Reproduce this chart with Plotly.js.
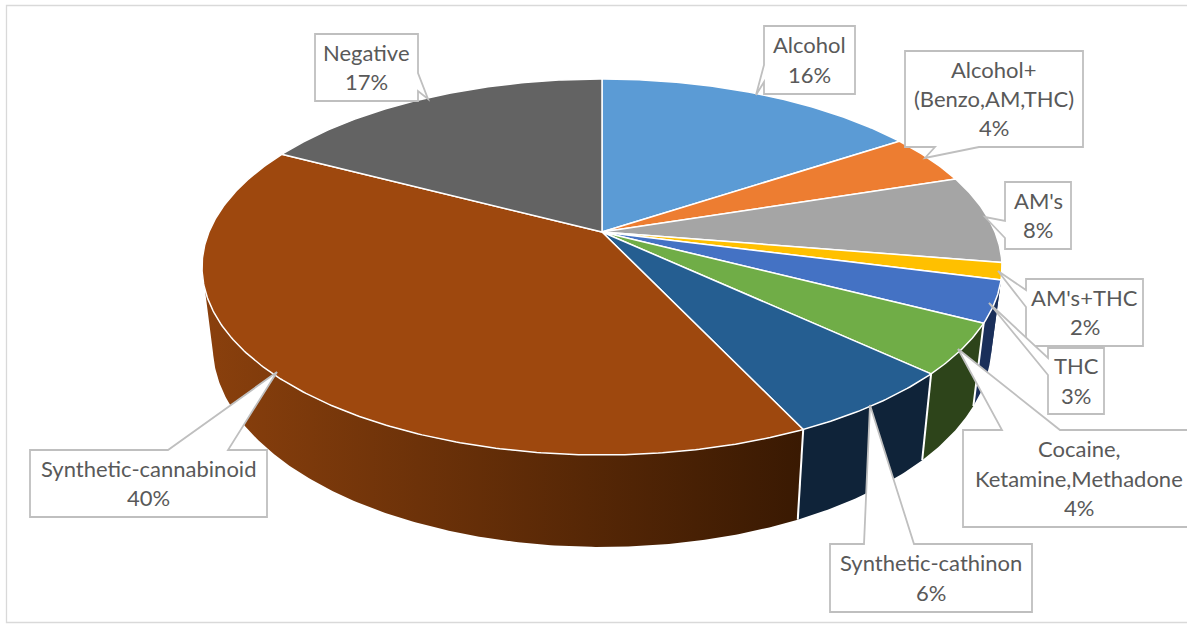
<!DOCTYPE html>
<html><head><meta charset="utf-8">
<script src="https://cdn.plot.ly/plotly-3.0.1.min.js"></script>
<style>html,body{margin:0;padding:0;background:#fff}#c{width:1187px;height:624px}</style></head>
<body><div id="c"></div>
<script>
// ---- data ----
const categories = ["Alcohol","Alcohol+<br>(Benzo,AM,THC)","AM's","AM's+THC","THC","Cocaine,<br>Ketamine,Methadone","Synthetic-cathinon","Synthetic-cannabinoid","Negative"];
const values = [15.7, 4.3, 7.6, 1.45, 3.55, 4.35, 6.05, 39.7, 17.3];
const percentLabels = ["16%","4%","8%","2%","3%","4%","6%","40%","17%"];
// ---- style ----
const topColors = ["#5b9bd5","#ed7d31","#a5a5a5","#ffc000","#4472c4","#70ad47","#255e91","#9e480e","#636363"];
const wallColors = [null,null,null,"#1a2f5a","#1a2f5a","#2d441a","#0f2339","grad",null];
// ---- projection of the tilted pie onto the page ----
const cx=602, cy=232, P=0.186, By=181.5, Cx=393;
const rad=d=>d*Math.PI/180;
function topPt(deg){const u=-Math.cos(rad(deg)),v=Math.sin(rad(deg)),d=1-P*u;return [cx+Cx*v/d, cy+By*u/d];}
function botPt(deg){const p=topPt(deg);return [cx+(p[0]-cx)*0.973, p[1]+83+0.069*(p[1]-325)];}
const tanR=Math.acos(-P)*180/Math.PI, tanL=360-tanR;
function arc(f,a,b){const n=Math.max(2,Math.ceil(Math.abs(b-a)*2)),o=[];for(let i=0;i<=n;i++)o.push(f(a+(b-a)*i/n));return o;}
// cumulative angles
const angles=[0];values.forEach(v=>angles.push(angles[angles.length-1]+v/values.reduce((s,x)=>s+x,0)*360));
const traces=[];
function poly(pts,extra){traces.push(Object.assign({type:'scatter',mode:'lines',x:pts.map(p=>p[0]),y:pts.map(p=>p[1]),hoverinfo:'skip',showlegend:false},extra));}
// walls
categories.forEach((c,i)=>{
  if(!wallColors[i])return;
  const a=Math.max(angles[i],tanR), b=Math.min(angles[i+1],tanL);
  if(b<=a)return;
  const pts=arc(topPt,a,b).concat(arc(botPt,b,a));pts.push(pts[0]);
  const base={fill:'toself',line:{width:0,color:'rgba(0,0,0,0)'}};
  if(wallColors[i]==='grad'){
    base.fillgradient={type:'horizontal',colorscale:[[0,'#8a400d'],[1,'#391902']]};
  } else base.fillcolor=wallColors[i];
  poly(pts,base);
});
// white front edges of the walls
categories.forEach((c,i)=>{
  if(!wallColors[i]||!wallColors[i-1]||wallColors[i]===wallColors[i-1])return;
  const d=angles[i];
  poly([topPt(d),botPt(d)],{line:{color:'#fff',width:2}});
});
// top face
categories.forEach((c,i)=>{
  const pts=[[cx,cy]].concat(arc(topPt,angles[i],angles[i+1]));pts.push([cx,cy]);
  poly(pts,{fill:'toself',fillcolor:topColors[i],line:{color:'#fff',width:1.5}});
});
// ---- callouts ----
const boxes=[
 {b:[764,26,855,94],   at:'left',t:[[764,82],[756,95],[764,65]]},
 {b:[905,51,1083,147], at:'bottom',t:[[979,147],[925,158],[935,147]]},
 {b:[1005,182,1071,249],at:'left',t:[[1005,238],[985,217],[1005,221]]},
 {b:[1026,279,1143,346],at:'left',t:[[1026,307],[998,271],[1026,290]]},
 {b:[1048,348,1104,414],at:'left',t:[[1048,375],[989,303],[1048,358]]},
 {b:[963,430,1195,527],at:'top',t:[[1002,430],[958,349],[1060,430]]},
 {b:[830,544,1032,612],at:'top',t:[[864,544],[870,405],[914,544]]},
 {b:[30,450,267,517],  at:'top',t:[[168,450],[277,372],[228,450]]},
 {b:[315,34,418,101],  at:'right',t:[[418,73],[428,99],[418,91]]}
];
const shapes=[{type:'rect',xref:'x',yref:'y',x0:6.5,y0:5.5,x1:1195,y1:622.5,line:{color:'#d9d9d9',width:1.3},fillcolor:'rgba(0,0,0,0)',layer:'below'}];
const annotations=[];
const LH=29.4;
boxes.forEach((o,i)=>{
  const [l,t,r,b]=o.b, tail=side=>o.at===side?o.t.map(p=>'L'+p[0]+' '+p[1]).join(' ')+' ':'';
  const path='M'+l+' '+t+' '+tail('top')+'L'+r+' '+t+' '+tail('right')+'L'+r+' '+b+' '+tail('bottom')+'L'+l+' '+b+' '+tail('left')+'Z';
  shapes.push({type:'path',xref:'x',yref:'y',path:path,fillcolor:'#fff',line:{color:'#bfbfbf',width:1.8},layer:'above'});
  const lines=(categories[i]+'<br>'+percentLabels[i]).split('<br>');
  const textCx=i===5?1079:(l+r)/2, midY=(t+b)/2-0.5;
  lines.forEach((s,k)=>annotations.push({xref:'x',yref:'y',x:textCx,y:midY+(k-(lines.length-1)/2)*LH,text:s,showarrow:false,xanchor:'center',yanchor:'middle',font:{family:'Lato, Carlito, sans-serif',size:22,color:'#595959'}}));
});
const layout={width:1187,height:624,margin:{l:0,r:0,t:0,b:0},paper_bgcolor:'#fff',plot_bgcolor:'#fff',showlegend:false,
 xaxis:{range:[0,1187],visible:false,fixedrange:true},yaxis:{range:[624,0],visible:false,fixedrange:true},shapes,annotations};
Plotly.newPlot('c',traces,layout,{staticPlot:true,displayModeBar:false});
</script></body></html>
